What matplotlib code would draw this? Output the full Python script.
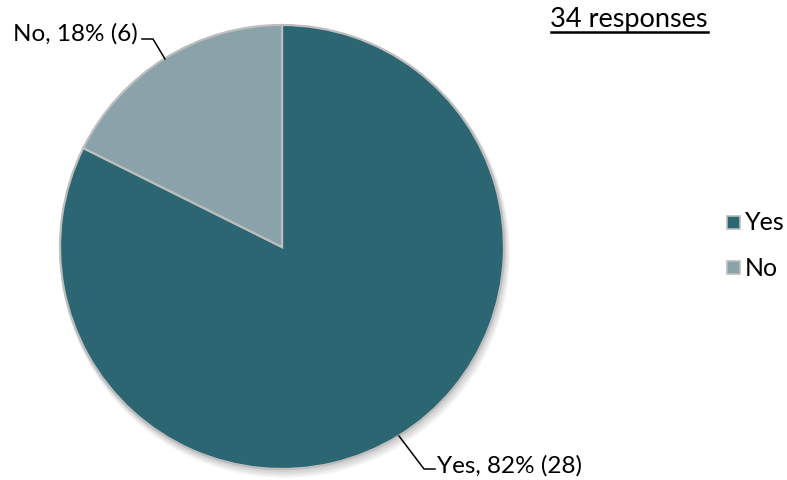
import matplotlib
matplotlib.use("Agg")
import matplotlib.pyplot as plt
from matplotlib.patches import Circle, Rectangle
from matplotlib.lines import Line2D

categories = ["Yes", "No"]
counts = [28, 6]
colors = ["#2B6672", "#8AA2A9"]
total_label = "34 responses"

plt.rcParams['font.family'] = ['Lato', 'DejaVu Sans']

W, H = 787, 481
fig = plt.figure(figsize=(W / 100, H / 100), dpi=100)
ax = fig.add_axes([0, 0, 1, 1])
ax.set_xlim(0, W)
ax.set_ylim(0, H)
ax.set_aspect('equal')
ax.axis('off')

cx, cy, r = 282, H - 248, 222

# soft shadow
for i in range(6):
    off = 1.0 + i * 1.0
    ax.add_patch(Circle((cx + off * 0.5, cy - off), r + 0.5 + i * 0.5, color='#000000', alpha=0.035, lw=0, zorder=1))

total = sum(counts)
wedges, _ = ax.pie(counts, colors=colors, startangle=90, counterclock=False,
                   center=(cx, cy), radius=r, frame=True,
                   wedgeprops=dict(edgecolor='#BDBDBD', linewidth=1.6, zorder=2))
ax.set_xlim(0, W)
ax.set_ylim(0, H)
ax.axis('off')

fs = 17.5
labels = [f"{c}, {round(v / total * 100)}% ({v})" for c, v in zip(categories, counts)]

# Yes label
ax.add_line(Line2D([399, 424, 435], [H - 437, H - 470, H - 470], color='black', lw=1.1, zorder=3))
ax.text(437, H - 466, labels[0], fontsize=fs, ha='left', va='center', zorder=4)
# No label
ax.add_line(Line2D([165, 153, 142], [H - 60, H - 40, H - 40], color='black', lw=1.1, zorder=3))
ax.text(138, H - 34, labels[1], fontsize=fs, ha='right', va='center', zorder=4)

# title with underline
t = ax.text(708, H - 19, total_label, fontsize=19.5, ha='right', va='center')
fig.canvas.draw()
bb = t.get_window_extent(fig.canvas.get_renderer())
ax.add_line(Line2D([bb.x0, bb.x1], [H - 33, H - 33], color='black', lw=1.8))

# legend
for i, (c, col) in enumerate(zip(categories, colors)):
    y = H - (223 + i * 45)
    ax.add_patch(Rectangle((727, y - 6.5), 13, 13, facecolor=col, edgecolor='#BDBDBD', lw=1.2))
    ax.text(745, y, c, fontsize=18, ha='left', va='center')

fig.savefig("out.png", dpi=100)
